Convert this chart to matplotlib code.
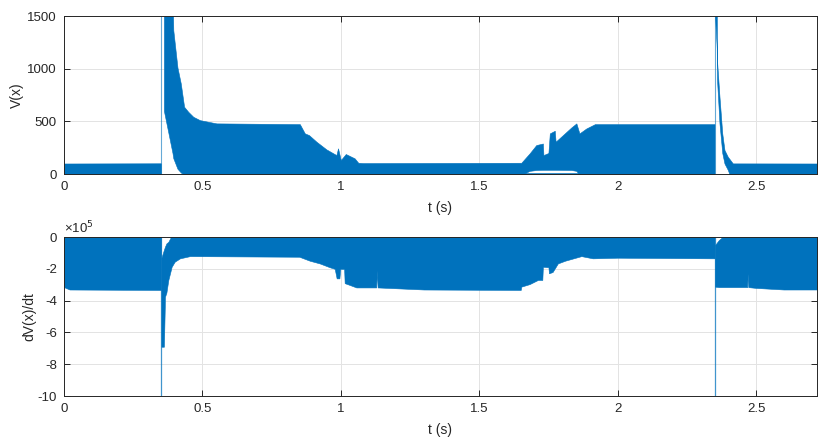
import numpy as np
import matplotlib.pyplot as plt
from matplotlib.ticker import FuncFormatter

plt.rcParams['font.family'] = ['Liberation Sans', 'DejaVu Sans']

BLUE = '#0072BD'
T_MAX = 2.72

# ---- V(x): envelope of the dense oscillation ----
v_a_t = [0.0, 0.350]
v_a_hi = [100, 102]
v_a_lo = [-12, -12]

v_b_t = [0.361, 0.392, 0.395, 0.410, 0.422, 0.434, 0.449, 0.467, 0.491, 0.551,
         0.852, 0.870, 0.885, 0.912, 0.948, 0.984, 0.990, 1.000, 1.018, 1.050,
         1.063, 1.080, 1.652, 1.682, 1.706, 1.730, 1.732, 1.750, 1.755, 1.773,
         1.776, 1.833, 1.851, 1.862, 1.887, 1.918, 2.350]
v_b_hi = [1800, 1800, 1366, 1012, 860, 639, 591, 544, 512, 481,
          474, 386, 370, 307, 234, 180, 244, 133, 190, 149,
          107, 104, 107, 196, 275, 290, 180, 200, 386, 411,
          307, 443, 481, 386, 433, 474, 474]
v_b_lo = [600, 200, 150, 50, 15, -10, -10, -10, -10, -10,
          -10, -10, -10, -10, -10, -10, -10, -10, -10, -10,
          -10, -10, -10, 30, 38, 40, 40, 40, 40, 40,
          40, 38, 30, -10, -10, -10, -10]
# thin strip under the gap around t = 1.7-1.86
v_strip_t = [1.66, 1.87]
v_strip_hi = [5, 5]
v_strip_lo = [-12, -12]

v_c_t = [2.352, 2.358, 2.359, 2.368, 2.378, 2.386, 2.398, 2.405, 2.416, 2.72]
v_c_hi = [1800, 1800, 1082, 733, 386, 228, 164, 140, 101, 100]
v_c_lo = [1500, 1200, 900, 480, 200, 100, 40, -10, -10, -10]

spike_t = [0.350, 2.350]

# ---- dV(x)/dt envelope (raw units) ----
d_a_t = [0.0, 0.02, 0.350]
d_a_hi = [0.1e5, 0.1e5, 0.1e5]
d_a_lo = [-3.15e5, -3.3e5, -3.33e5]

d_b_t = [0.352, 0.361, 0.365, 0.370, 0.377, 0.389, 0.400, 0.419, 0.455, 0.850,
         0.888, 0.924, 0.960, 0.978, 0.985, 0.995, 0.998, 1.012, 1.014, 1.030,
         1.056, 1.128, 1.130, 1.133, 1.300, 1.650, 1.652, 1.682, 1.712, 1.728,
         1.730, 1.750, 1.752, 1.765, 1.784, 1.810, 1.869, 1.910, 2.000, 2.350]
d_b_hi = [-1.3e5, -0.8e5, -0.6e5, -0.4e5, -0.3e5] + [0.1e5] * 35
d_b_lo = [-6.9e5, -6.9e5, -3.75e5, -3.5e5, -2.7e5, -1.87e5, -1.55e5, -1.34e5, -1.2e5, -1.24e5,
          -1.49e5, -1.66e5, -1.9e5, -2.0e5, -2.6e5, -2.6e5, -2.0e5, -2.0e5, -2.9e5, -3.0e5,
          -3.17e5, -3.17e5, -2.1e5, -3.17e5, -3.3e5, -3.33e5, -3.12e5, -2.96e5, -2.7e5, -2.7e5,
          -1.87e5, -1.9e5, -2.28e5, -2.2e5, -1.66e5, -1.49e5, -1.2e5, -1.34e5, -1.3e5, -1.34e5]

d_c_t = [2.352, 2.365, 2.385, 2.468, 2.470, 2.472, 2.50, 2.60, 2.72]
d_c_hi = [-0.5e5, -0.2e5, 0.1e5, 0.1e5, 0.1e5, 0.1e5, 0.1e5, 0.1e5, 0.1e5]
d_c_lo = [-3.12e5, -3.15e5, -3.15e5, -3.15e5, -2.3e5, -3.15e5, -3.2e5, -3.3e5, -3.3e5]

SCALE = 1e5


def style_axes(ax):
    ax.set_xlim(0, T_MAX)
    ax.grid(True, color='#e3e3e3', linewidth=0.7)
    ax.set_axisbelow(True)
    for s in ax.spines.values():
        s.set_color('#262626')
        s.set_linewidth(0.7)
    ax.tick_params(direction='in', length=4, width=0.7, colors='#262626',
                   labelsize=9.5, top=True, right=True, pad=5)
    ax.xaxis.set_major_formatter(FuncFormatter(lambda v, p: '%g' % v))
    ax.yaxis.set_major_formatter(FuncFormatter(lambda v, p: '%g' % v))
    ax.set_xticks([0, 0.5, 1, 1.5, 2, 2.5])


def band(ax, t, lo, hi, scale=1.0):
    ax.fill_between(t, np.array(lo) / scale, np.array(hi) / scale,
                    color=BLUE, linewidth=0.4, edgecolor=BLUE)


fig = plt.figure(figsize=(8.18, 4.41), dpi=100)
ax1 = fig.add_axes([0.0782, 0.6054, 0.9205, 0.358])
ax2 = fig.add_axes([0.0782, 0.102, 0.9205, 0.3605])

# top: V(x)
band(ax1, v_a_t, v_a_lo, v_a_hi)
band(ax1, v_b_t, v_b_lo, v_b_hi)
band(ax1, v_strip_t, v_strip_lo, v_strip_hi)
band(ax1, v_c_t, v_c_lo, v_c_hi)
for ts in spike_t:
    ax1.plot([ts, ts], [0, 1700], color=BLUE, linewidth=0.8, alpha=0.6)
style_axes(ax1)
ax1.set_ylim(0, 1500)
ax1.set_yticks([0, 500, 1000, 1500])
ax1.set_xlabel('t (s)', fontsize=10, color='#262626', labelpad=6)
ax1.set_ylabel('V(x)', fontsize=10, color='#262626')
ax1.yaxis.set_label_coords(-0.053, 0.5)

# bottom: dV(x)/dt
band(ax2, d_a_t, d_a_lo, d_a_hi, SCALE)
band(ax2, d_b_t, d_b_lo, d_b_hi, SCALE)
band(ax2, d_c_t, d_c_lo, d_c_hi, SCALE)
for ts in spike_t:
    ax2.plot([ts, ts], [0, -11], color=BLUE, linewidth=0.9, alpha=0.75)
style_axes(ax2)
ax2.set_ylim(-10, 0)
ax2.set_yticks([-10, -8, -6, -4, -2, 0])
ax2.set_xlabel('t (s)', fontsize=10, color='#262626', labelpad=6)
ax2.set_ylabel('dV(x)/dt', fontsize=10, color='#262626')
ax2.yaxis.set_label_coords(-0.037, 0.5)
ax2.text(0.0, 1.005, '\u00d710$^{5}$', transform=ax2.transAxes,
         ha='left', va='bottom', fontsize=9.5, color='#262626')

fig.savefig('out.png', dpi=100)
